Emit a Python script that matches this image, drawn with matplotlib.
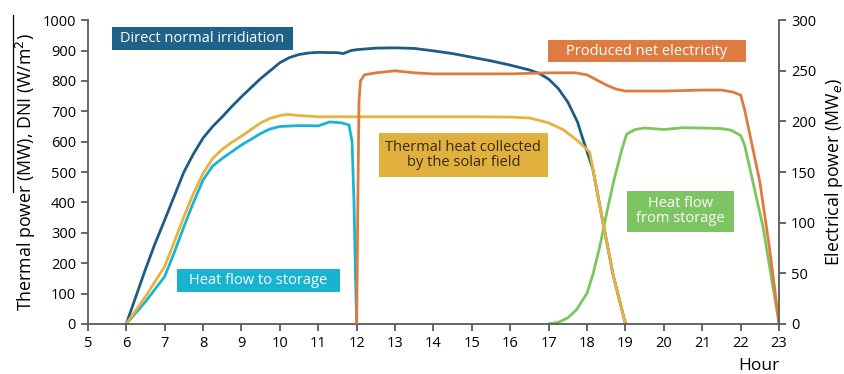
import matplotlib
matplotlib.use("Agg")
import matplotlib.pyplot as plt
from matplotlib.lines import Line2D
from matplotlib.patches import Rectangle

plt.rcParams['font.family'] = ['Open Sans', 'DejaVu Sans']

# Direct normal irradiation (W/m2)
dni_h = [6, 6.25, 6.5, 6.75, 7, 7.5, 7.75, 8, 8.25, 8.5, 8.75, 9, 9.5, 10, 10.25, 10.5,
         10.75, 11, 11.5, 11.65, 11.85, 12, 12.5, 13, 13.5, 14, 14.5, 15, 15.5, 16, 16.5,
         16.75, 17, 17.25, 17.5, 17.75, 17.9, 18.15, 18.42, 18.68, 19]
dni = [0, 90, 180, 265, 342, 500, 560, 612, 650, 682, 716, 748, 808, 860, 877, 887,
       892, 894, 893, 890, 900, 903, 908, 909, 907, 899, 890, 878, 866, 852, 836,
       825, 806, 775, 730, 665, 605, 510, 330, 160, 0]

# Thermal heat collected by the solar field (MW)
col_h = [6, 6.5, 7, 7.25, 7.5, 7.75, 8, 8.25, 8.5, 8.75, 9, 9.25, 9.5, 9.75, 10, 10.2,
         10.5, 11, 12, 13, 14, 15, 16, 16.5, 17, 17.4, 17.8, 18.07, 18.15, 18.42, 18.68, 19]
collected = [0, 90, 189, 270, 353, 430, 496, 545, 575, 598, 618, 640, 662, 677, 686, 690,
             686, 682, 682, 682, 682, 682, 681, 678, 662, 638, 598, 565, 510, 330, 160, 0]

# Heat flow to storage (MW)
to_h = [6, 6.5, 7, 7.25, 7.5, 7.75, 8, 8.25, 8.5, 8.75, 9, 9.25, 9.5, 9.75, 10, 10.5, 11,
        11.3, 11.6, 11.8, 11.88, 11.93, 11.97, 12]
to_storage = [0, 73, 156, 235, 320, 400, 474, 520, 545, 567, 589, 608, 627, 642, 650, 653,
              652, 665, 662, 655, 600, 400, 150, 0]

# Heat flow from storage (MW)
from_h = [17, 17.25, 17.5, 17.72, 18, 18.16, 18.33, 18.51, 18.68, 18.9, 19.03, 19.25,
          19.5, 20, 20.5, 21, 21.5, 21.75, 22, 22.1, 22.58, 23]
from_storage = [0, 5, 20, 46, 101, 167, 254, 365, 463, 572, 625, 640, 645, 640, 646, 645,
                643, 638, 620, 590, 320, 0]

# Produced net electricity (MWe, right axis)
el_h = [12, 12.03, 12.06, 12.1, 12.2, 12.5, 13, 13.5, 14, 15, 16, 17, 17.7, 18, 18.25,
        18.5, 18.75, 19, 20, 21, 21.5, 21.8, 22, 22.1, 22.5, 22.75, 23]
electricity = [0, 120, 220, 240, 246, 248, 250, 248, 247, 247, 247, 248, 248, 246, 241,
               236, 232, 230, 230, 231, 231, 229, 226, 212, 140, 75, 0]

hours = list(range(5, 24))
left_ticks = list(range(0, 1001, 100))
right_ticks = list(range(0, 301, 50))

c_dni = "#1d5d84"
c_col = "#e8b23c"
c_to = "#1ab4d2"
c_from = "#7cc65b"
c_el = "#e07a3d"
c_axis = "#5a5a5a"

fig = plt.figure(figsize=(8.45, 3.74), dpi=100)
ax = fig.add_axes([0.104, 0.134, 0.818, 0.812])
ax2 = ax.twinx()

lw = 2.0
kw = dict(lw=lw, solid_joinstyle='round', solid_capstyle='round')
ax.plot(dni_h, dni, color=c_dni, **kw)
ax.plot(to_h, to_storage, color=c_to, **kw)
ax.plot(from_h, from_storage, color=c_from, **kw)
ax.plot(col_h, collected, color=c_col, **kw)
ax2.plot(el_h, electricity, color=c_el, **kw)

ax.set_xlim(5, 23)
ax.set_ylim(0, 1000)
ax2.set_ylim(0, 300)
ax.set_xticks(hours)
ax.set_yticks(left_ticks)
ax2.set_yticks(right_ticks)

for a in (ax, ax2):
    a.spines['top'].set_visible(False)
    for s in ('left', 'right', 'bottom'):
        a.spines[s].set_color(c_axis)
        a.spines[s].set_linewidth(1.3)
    a.tick_params(colors=c_axis, labelcolor='black', labelsize=10.5, width=1.3, length=5)
ax.spines['right'].set_visible(False)
ax2.spines['left'].set_visible(False)
ax2.spines['bottom'].set_visible(False)

ax.set_ylabel("Thermal power (MW), DNI (W/m$^2$)", fontsize=12.8, labelpad=3)
ax2.set_ylabel("Electrical power (MW$_e$)", fontsize=12.8, labelpad=5)
ax.set_xlabel("Hour", fontsize=12.5, loc='right', labelpad=5)

# thin rule left of the y label, as in the original
fig.add_artist(Line2D([13.3 / 845, 13.3 / 845], [1 - 15 / 374, 1 - 192 / 374],
                      color='black', lw=0.9))

def label(x0, x1, y0, y1, s, fc, tc='white'):
    ax.add_patch(Rectangle((x0, y0), x1 - x0, y1 - y0, fc=fc, ec='none', zorder=5))
    ax.text((x0 + x1) / 2, (y0 + y1) / 2, s, ha='center', va='center', fontsize=10.5,
            color=tc, linespacing=1.0, zorder=6)

label(5.62, 10.33, 902, 978, "Direct normal irridiation", "#1f6289")
label(7.32, 11.57, 105, 181, "Heat flow to storage", "#17b3d1")
label(12.58, 16.98, 484, 628, "Thermal heat collected\nby the solar field", "#e0b13f",
      tc='#3a2a10')
label(16.98, 22.14, 862, 934, "Produced net electricity", "#df7a40")
label(19.04, 21.83, 303, 438, "Heat flow\nfrom storage", "#7dc462")

fig.savefig("out.png", dpi=100)
